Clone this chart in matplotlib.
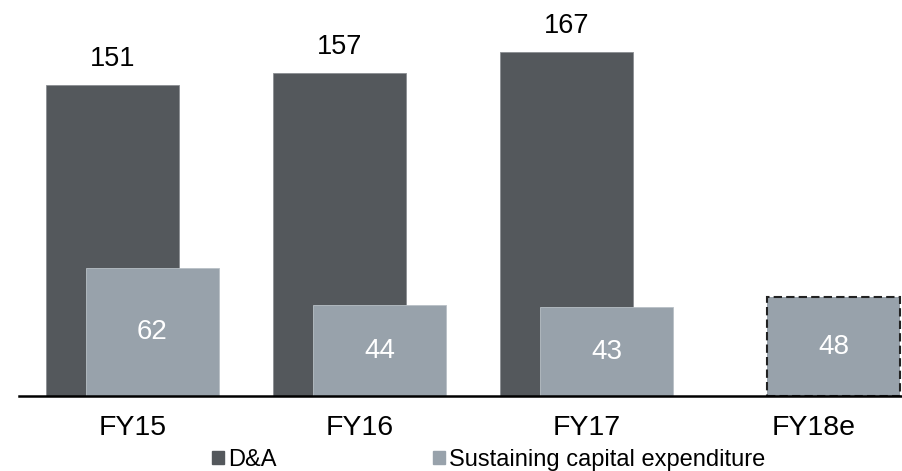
import matplotlib.pyplot as plt
from matplotlib.patches import Patch
import numpy as np

plt.rcParams['font.family'] = ['Liberation Sans', 'DejaVu Sans']

years = ['FY15', 'FY16', 'FY17', 'FY18e']
dna = [151, 157, 167]
capex = [62, 44, 43, 48]

dark = '#54585c'
light = '#98a2ab'

fig = plt.figure(figsize=(9.02, 4.71), dpi=100)
ax = fig.add_axes([19 / 902, 75 / 471, 883 / 902, 396 / 471])

x = np.arange(len(years))
w = 0.586
off = 0.088

dark_bars = ax.bar(x[:len(dna)] - off, dna, w, color=dark, edgecolor='#8a8e92', linewidth=0.6, zorder=2)
light_bars = ax.bar(x + off, capex, w, color=light, edgecolor='#b8c0c6', linewidth=0.6, zorder=3)

# estimate year gets a dashed outline
light_bars[-1].set_edgecolor('#222222')
light_bars[-1].set_linestyle((0, (4, 2)))
light_bars[-1].set_linewidth(1.5)

for b, v in zip(dark_bars, dna):
    ax.text(b.get_x() + b.get_width() / 2, v + 12.5, str(v), ha='center', va='center',
            fontsize=19.5, color='black')
for b, v in zip(light_bars, capex):
    ax.text(b.get_x() + b.get_width() / 2, v / 2, str(v), ha='center', va='center',
            fontsize=20, color='white', zorder=4)

ax.set_xlim(-0.5, 3.39)
ax.set_ylim(0, 192.2)
ax.set_xticks(x)
ax.set_xticklabels(years, fontsize=20.5)
ax.tick_params(axis='x', length=0, pad=14)
ax.set_yticks([])
for s in ['top', 'right', 'left']:
    ax.spines[s].set_visible(False)
ax.spines['bottom'].set_linewidth(1.8)
ax.spines['bottom'].set_color('black')
ax.spines['bottom'].set_zorder(5)

handles = [Patch(color=dark, label='D&A'), Patch(color=light, label='Sustaining capital expenditure')]
fig.legend(handles=handles, loc='center', bbox_to_anchor=(0.542, 0.024), ncol=2, frameon=False,
           fontsize=17, handlelength=0.5, handleheight=0.5, handletextpad=0.2,
           columnspacing=6.6, borderpad=0)

fig.savefig('out.png', dpi=100)
